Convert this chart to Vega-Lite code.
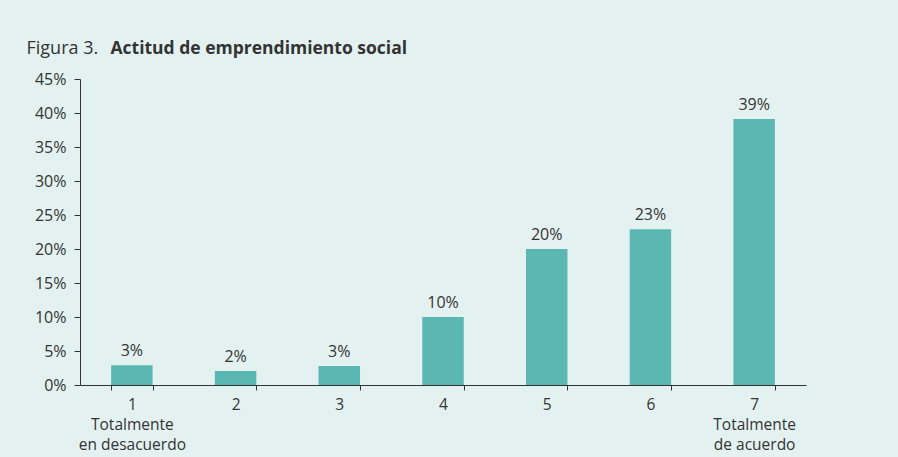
{
  "$schema": "https://vega.github.io/schema/vega-lite/v6.json",
  "width": 726,
  "height": 306,
  "autosize": {"type": "none"},
  "padding": {"left": 80, "top": 79, "right": 92, "bottom": 72},
  "background": "#e3f2f1",
  "config": {
    "view": {"stroke": null},
    "font": "Open Sans",
    "axis": {
      "domainColor": "#333333",
      "tickColor": "#333333",
      "labelColor": "#333333",
      "titleColor": "#333333",
      "labelFont": "Open Sans",
      "titleFont": "Open Sans",
      "labelFontSize": 16,
      "grid": false
    }
  },
  "data": {
    "values": [
      {"nivel": "1", "pct": 2.9, "etiqueta": "3%"},
      {"nivel": "2", "pct": 2.05, "etiqueta": "2%"},
      {"nivel": "3", "pct": 2.8, "etiqueta": "3%"},
      {"nivel": "4", "pct": 10.0, "etiqueta": "10%"},
      {"nivel": "5", "pct": 20.0, "etiqueta": "20%"},
      {"nivel": "6", "pct": 22.9, "etiqueta": "23%"},
      {"nivel": "7", "pct": 39.1, "etiqueta": "39%"}
    ]
  },
  "encoding": {
    "x": {
      "field": "nivel",
      "type": "ordinal",
      "scale": {"paddingInner": 0.6, "paddingOuter": 0.3},
      "axis": {
        "title": null,
        "labelAngle": 0,
        "tickBand": "extent",
        "tickSize": 5,
        "labelPadding": 7,
        "labelFontSize": 15.5,
        "labelLineHeight": 20,
        "labelBaseline": "top",
        "labelExpr": "datum.value == '1' ? ['1', 'Totalmente', 'en desacuerdo'] : (datum.value == '7' ? ['7', 'Totalmente', 'de acuerdo'] : datum.value)"
      }
    }
  },
  "layer": [
    {
      "mark": {"type": "bar", "color": "#5bb7b2"},
      "encoding": {
        "y": {
          "field": "pct",
          "type": "quantitative",
          "scale": {"domain": [0, 45]},
          "axis": {
            "values": [0, 5, 10, 15, 20, 25, 30, 35, 40, 45],
            "labelExpr": "datum.value + '%'",
            "tickSize": 6,
            "labelPadding": 8,
            "title": "Figura 3.",
            "titleFontSize": 18,
            "titleFontWeight": "normal",
            "titleAngle": 0,
            "titleAlign": "left",
            "titleBaseline": "alphabetic",
            "titleX": -54,
            "titleY": -26
          }
        }
      }
    },
    {
      "mark": {"type": "text", "baseline": "alphabetic", "dy": -9, "fontSize": 16, "color": "#333333", "font": "Open Sans"},
      "encoding": {
        "y": {
          "field": "pct",
          "type": "quantitative",
          "scale": {"domain": [0, 45]},
          "axis": {
            "orient": "right",
            "domain": false,
            "ticks": false,
            "labels": false,
            "title": "Actitud de emprendimiento social",
            "titleFontSize": 17.5,
            "titleFontWeight": "bold",
            "titleAngle": 0,
            "titleAlign": "left",
            "titleBaseline": "alphabetic",
            "titleX": -696,
            "titleY": -26
          }
        },
        "text": {"field": "etiqueta"}
      }
    }
  ],
  "resolve": {"axis": {"y": "independent"}}
}
